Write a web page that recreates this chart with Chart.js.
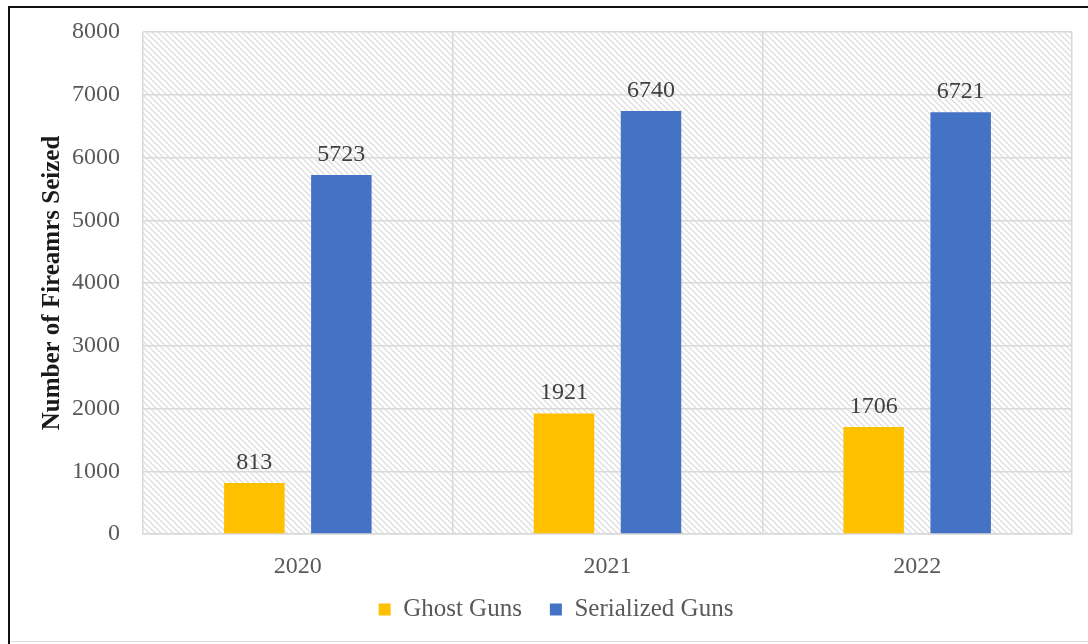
<!DOCTYPE html>
<html>
<head>
<meta charset="utf-8">
<script src="https://cdn.jsdelivr.net/npm/chart.js@4"></script>
<style>
  html, body { margin: 0; padding: 0; background: #fff; }
  #wrap { position: relative; width: 1088px; height: 644px; overflow: hidden; background: #fff; }
  canvas { position: absolute; left: 0; top: 0; }
  .ln { position: absolute; pointer-events: none; }
</style>
</head>
<body>
<div id="wrap">
  <canvas id="c" width="1088" height="644"></canvas>
  <div class="ln" style="left:8px; top:6px; width:1080px; height:2px; background:#111;"></div>
  <div class="ln" style="left:8px; top:6px; width:2px; height:638px; background:#111;"></div>
  <div class="ln" style="left:10px; top:641px; width:1078px; height:1px; background:#dcdcdc;"></div>
</div>
<script>
const categories = ['2020', '2021', '2022'];
const ghostGuns = [813, 1921, 1706];
const serializedGuns = [5723, 6740, 6721];
const seriesNames = ['Ghost Guns', 'Serialized Guns'];
const yTitle = 'Number of Fireamrs Seized';

const FONT = "'Liberation Serif', 'Times New Roman', serif";

function makeHatch() {
  const s = 6;
  const p = document.createElement('canvas');
  p.width = s; p.height = s;
  const g = p.getContext('2d');
  g.fillStyle = '#ffffff';
  g.fillRect(0, 0, s, s);
  g.strokeStyle = '#dedede';
  g.lineWidth = 1.3;
  g.beginPath();
  g.moveTo(-1, -1); g.lineTo(s + 1, s + 1);
  g.moveTo(-1, s - 1); g.lineTo(1, s + 1);
  g.moveTo(s - 1, -1); g.lineTo(s + 1, 1);
  g.stroke();
  return p;
}

const hatchPlugin = {
  id: 'hatchBg',
  afterLayout(chart) {
    // let the x tick labels extend below the axis box (they are clipped to it otherwise)
    const x = chart.scales.x;
    x.bottom = x.top + 70;
  },
  beforeDraw(chart) {
    const { ctx, chartArea: a } = chart;
    ctx.save();
    ctx.fillStyle = ctx.createPattern(makeHatch(), 'repeat');
    ctx.fillRect(a.left, a.top, a.right - a.left, a.bottom - a.top);
    ctx.restore();
  }
};

const valueLabels = {
  id: 'valueLabels',
  afterDatasetsDraw(chart) {
    const { ctx } = chart;
    ctx.save();
    ctx.font = '24px ' + FONT;
    ctx.fillStyle = '#404040';
    ctx.textAlign = 'center';
    ctx.textBaseline = 'alphabetic';
    chart.data.datasets.forEach((ds, i) => {
      chart.getDatasetMeta(i).data.forEach((bar, j) => {
        ctx.fillText(String(ds.data[j]), bar.x, bar.y - 14);
      });
    });
    ctx.restore();
  }
};

new Chart(document.getElementById('c'), {
  type: 'bar',
  data: {
    labels: categories,
    datasets: [
      { label: seriesNames[0], data: ghostGuns, backgroundColor: '#FFC000', borderWidth: 0 },
      { label: seriesNames[1], data: serializedGuns, backgroundColor: '#4472C4', borderWidth: 0 }
    ]
  },
  options: {
    responsive: false,
    animation: false,
    devicePixelRatio: 1,
    categoryPercentage: 0.562,
    barPercentage: 0.695,
    layout: { padding: { left: 40, right: 16, top: 32, bottom: 12 } },
    plugins: {
      tooltip: { enabled: false },
      legend: {
        position: 'bottom',
        labels: {
          boxWidth: 12,
          boxHeight: 12,
          padding: 28,
          color: '#595959',
          font: { family: FONT, size: 25 }
        }
      }
    },
    scales: {
      x: {
        grid: { display: true, offset: true, color: '#d9d9d9', lineWidth: 1.5, drawTicks: false },
        border: { display: true, color: '#d9d9d9', width: 1.5 },
        ticks: { color: '#595959', padding: 18, font: { family: FONT, size: 24 } },
        afterFit(scale) { scale.height = 35; }
      },
      y: {
        min: 0,
        max: 8000,
        grid: { color: '#d9d9d9', lineWidth: 1.5, drawTicks: true, tickLength: 23, tickColor: 'rgba(0,0,0,0)' },
        border: { display: false },
        ticks: {
          stepSize: 1000,
          color: '#595959',
          padding: 0,
          font: { family: FONT, size: 24 },
          callback: (v) => String(v)
        },
        title: {
          display: true,
          text: yTitle,
          color: '#1a1a1a',
          padding: { top: 0, bottom: 0 },
          font: { family: FONT, size: 25, weight: 'bold', lineHeight: 1 }
        },
        afterFit(scale) { scale.width = 103; }
      }
    }
  },
  plugins: [hatchPlugin, valueLabels]
});
</script>
</body>
</html>
